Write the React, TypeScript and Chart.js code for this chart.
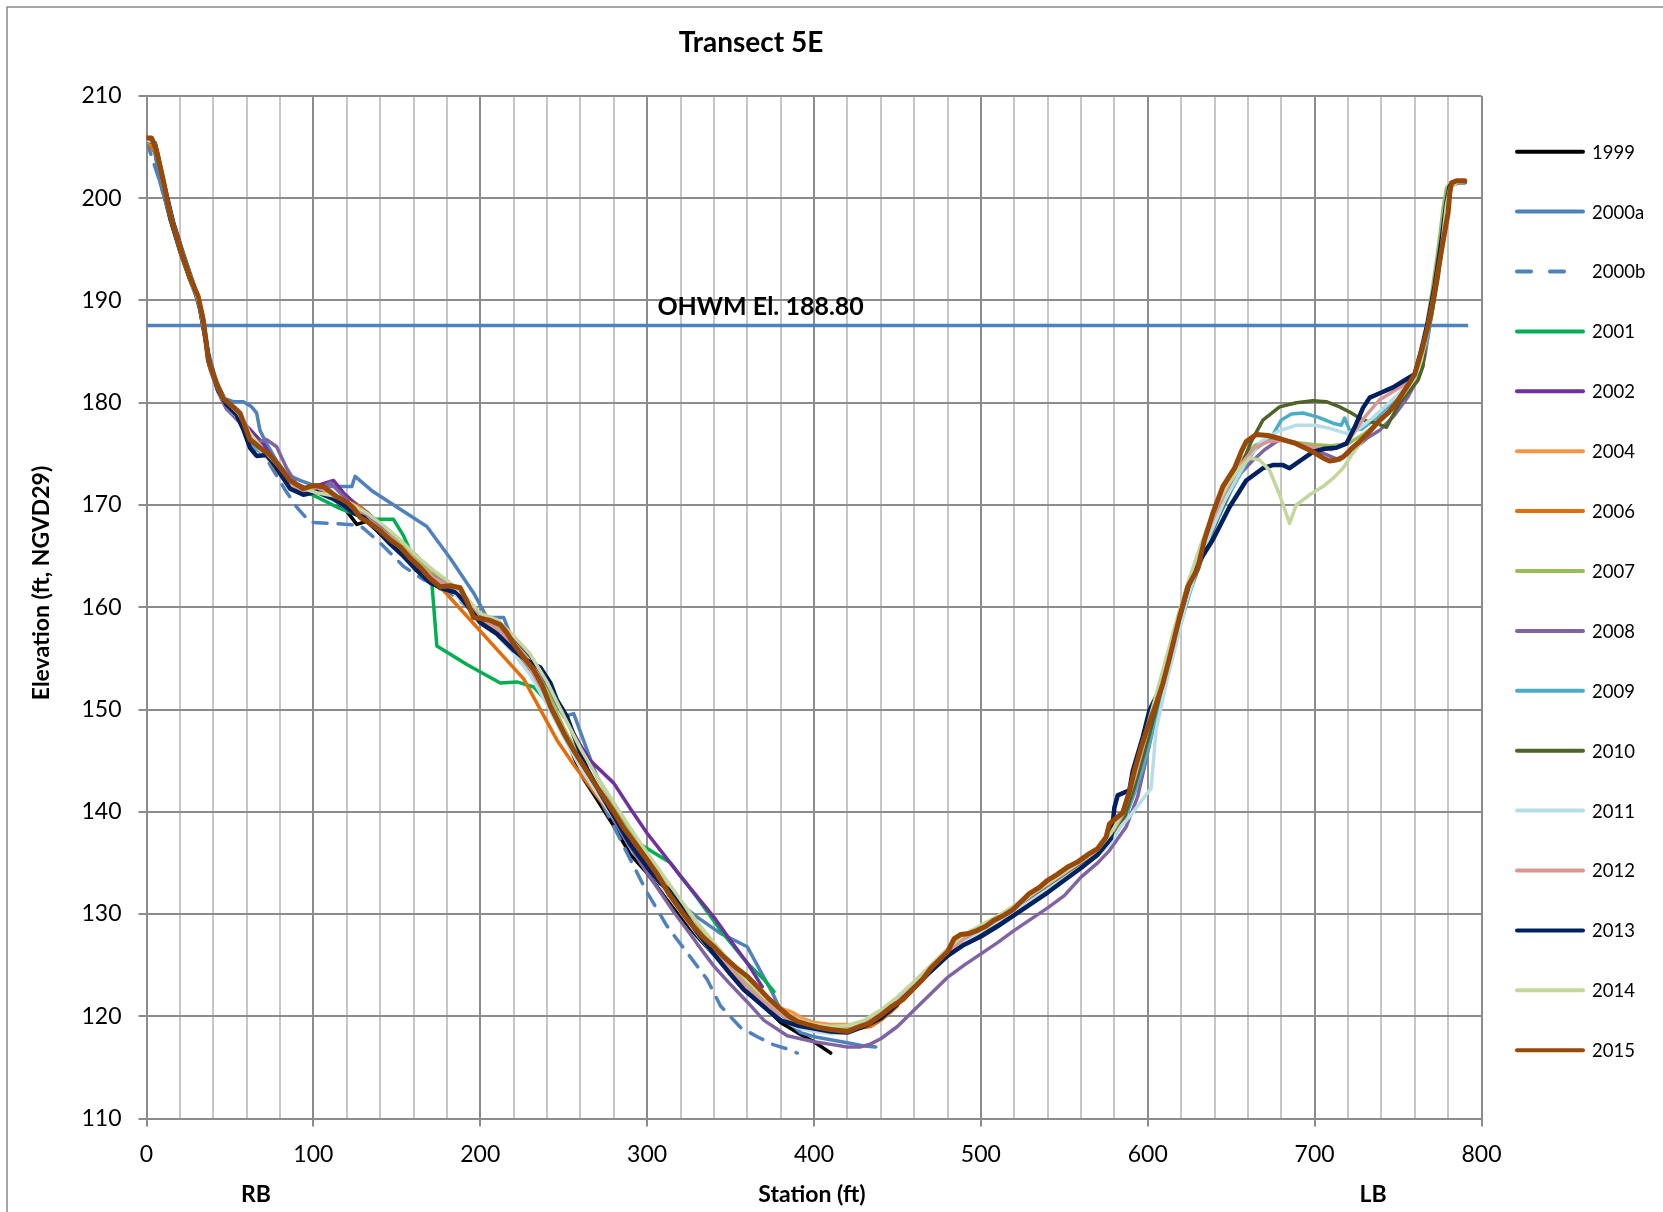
import React, { useEffect, useRef } from 'react';
import { Chart, registerables } from 'chart.js';

Chart.register(...registerables);

// ---------------- DATA ----------------
const YEARS = ['1999', '2000a', '2000b', '2001', '2002', '2004', '2006', '2007', '2008', '2009', '2010', '2011', '2012', '2013', '2014', '2015'];

const X_TICKS = [0, 100, 200, 300, 400, 500, 600, 700, 800];
const Y_TICKS = [110, 120, 130, 140, 150, 160, 170, 180, 190, 200, 210];

const OHWM_LINE = [[0, 187.55], [792, 187.55]];
const OHWM_TEXT = 'OHWM El. 188.80';

const S1999 = [[0,205.8],[4,205.6],[8,202],[14,198],[20,194.8],[26,192],[31,190],[34,187.8],[37,184],[42,181.6],[47,180],[53,179.4],[58,178],[63,176.6],[68,175.8],[74,174.6],[80,173.2],[86,172],[94,171.3],[102,171.6],[110,171],[116,170],[120,169.4],[126,168.1],[132,168.4],[140,167.2],[148,166],[156,164.7],[164,163.6],[172,162.6],[180,162],[188,161.5],[196,159.4],[204,158.5],[212,157.4],[220,156],[228,154.4],[236,152.6],[244,150.1],[250,147.9],[256,145.4],[262,143.2],[270,141.2],[280,138.6],[290,135.8],[300,134],[310,131.8],[320,129.7],[330,127.8],[340,126],[350,124.6],[360,122.8],[370,121],[380,119.4],[390,118.4],[400,117.5],[410,116.4]];

const S2000A = [[0,205.6],[4,205.4],[8,201.6],[14,198.2],[20,195],[26,192.2],[31,190.3],[34,188.4],[37,185],[42,182],[47,180.4],[52,180.1],[58,180.1],[63,179.6],[66,179],[68,177.3],[72,176],[78,174.3],[84,173],[92,172.4],[99,172],[110,171.8],[123,171.8],[125,172.8],[135,171.4],[150,169.8],[168,167.9],[182,164.8],[196,161.4],[204,159],[214,159],[220,156.5],[230,154.3],[240,152.2],[250,149.3],[256,149.6],[263,146.5],[270,143.4],[280,140.8],[290,138.2],[300,135.7],[310,133.3],[320,131],[330,129.7],[344,128.1],[360,126.8],[366,125],[375,122.3],[380,120.6],[386,119.3],[392,118.4],[400,118],[410,117.7],[420,117.4],[430,117.1],[437,117]];

const S2000B = [[0,205.6],[8,201.6],[20,195],[31,190.3],[37,184.5],[46,180.2],[56,178.8],[64,176.5],[70,175],[76,173.4],[83,171.5],[90,169.8],[98,168.3],[112,168.2],[128,168],[140,166.3],[154,164],[166,162.7],[180,161.7],[196,159.5],[210,157.6],[224,155.2],[236,152.4],[248,148.8],[260,144.6],[272,141.2],[286,136.6],[300,132.1],[312,128.8],[324,126.2],[336,123.6],[344,121],[356,118.9],[366,118],[376,117.2],[384,116.8],[390,116.4]];

const S2001 = [[0,205.7],[6,204.2],[12,199.8],[20,194.8],[27,191.6],[32,189.4],[35,186.5],[38,183.4],[43,181.4],[48,180],[55,178.8],[62,176.8],[70,175.2],[78,173.8],[86,172.6],[94,171.4],[102,170.8],[114,169.8],[126,169],[138,168.6],[148,168.6],[154,167],[160,164.8],[168,162.9],[171,162.4],[174,156.2],[192,154.4],[212,152.6],[222,152.7],[232,152.2],[240,150.8],[248,148.6],[256,146],[264,143.8],[272,141.6],[282,139.2],[292,137.2],[300,136.4],[308,135.6],[314,135],[330,131.6],[345,128.2],[360,125.2],[370,123.6],[376,122.4]];

const S2002 = [[0,205.7],[6,204.4],[12,200],[20,194.8],[27,191.8],[32,189.6],[35,187],[38,183.6],[43,181],[48,179.4],[55,178.4],[62,177.4],[70,176],[78,174],[86,172.4],[96,171.6],[104,172],[112,172.4],[118,171.2],[124,170.3],[132,169.3],[142,167.8],[152,166.4],[162,165],[172,163.4],[182,162.2],[192,160.8],[200,159.2],[210,158.2],[220,157],[230,155.2],[240,152.6],[250,149.5],[260,146.5],[266,145],[280,142.8],[290,140.3],[300,137.9],[310,135.8],[320,133.7],[330,131.7],[340,129.7],[350,127.4],[360,125.2],[369,122.9]];

const S2004 = [[0,205.7],[6,204.4],[12,200],[20,195],[27,191.8],[32,189.6],[35,186.8],[38,183.6],[43,181.2],[48,179.8],[55,178.6],[62,176.6],[70,175],[78,173.6],[86,172.4],[94,171.4],[102,171.6],[112,171],[122,170],[132,168.8],[142,167.4],[152,166],[162,164.4],[172,163],[182,162],[192,160.2],[200,158.6],[210,157.6],[220,156],[230,154],[240,151.2],[250,147.8],[260,144.8],[270,142.4],[280,140],[290,137.6],[300,135.2],[310,132.8],[320,130.6],[330,128.4],[340,126.4],[350,124.6],[360,123],[370,121.6],[380,120.8],[387,120.4],[393,119.8],[400,119.4],[410,119.2],[421,119.2]];

const S2006 = [[0,205.7],[6,204.3],[12,199.9],[20,195],[27,191.7],[32,189.5],[35,186.7],[38,183.5],[43,181.2],[48,179.8],[55,178.7],[62,177],[70,175.3],[78,173.4],[86,172],[94,171.2],[102,171.5],[112,170.8],[120,170.4],[128,169.8],[136,168.6],[144,167.2],[152,165.8],[160,164.5],[168,163.2],[176,162],[226,153],[246,147],[256,144.6],[266,142.4],[276,140.2],[286,138],[296,135.8],[306,133.6],[316,131.4],[326,129.2],[336,127.2],[346,125.4],[356,123.6],[366,122],[376,120.6],[386,119.6],[396,119.1],[406,118.8],[416,118.7],[426,118.8],[434,119],[440,119.6],[446,120.4],[450,121]];

const S2007 = [[0,205.8],[5,205.4],[10,201.6],[16,197.4],[22,194.4],[28,191.5],[32,189.2],[35,186.6],[38,183.5],[43,181.3],[48,180],[55,178.8],[62,176.8],[70,175.2],[78,173.8],[86,172.2],[94,171.2],[102,171.4],[112,170.9],[122,170],[132,168.9],[142,167.6],[152,166.2],[162,164.6],[172,163.2],[182,162.3],[192,160.6],[200,159],[210,158.2],[220,156.6],[230,154.6],[240,151.8],[250,148.2],[260,145.2],[270,142.6],[280,140.3],[290,137.8],[300,135.5],[310,133.2],[320,131],[330,128.8],[340,126.6],[350,124.8],[360,123.1],[370,121.6],[380,120.4],[390,119.6],[400,119.1],[410,118.8],[420,118.7],[430,119.2],[440,120.2],[450,121.6],[460,123.2],[470,124.8],[480,126.4],[490,127.6],[500,128.6],[510,129.6],[520,130.7],[530,131.8],[540,133],[550,134.1],[560,135.2],[570,136.3],[578,137.8],[585,139.8],[592,143.6],[600,148.5],[608,153],[616,157.8],[624,162.2],[632,165.8],[640,169.4],[648,172.2],[656,174.4],[664,175.8],[672,176.4],[680,176.4],[690,176.1],[700,175.9],[710,175.8],[720,176],[730,177],[740,178.3],[750,179.9],[758,181.6],[763,183.4],[766,186.5],[770,190.5],[774,195],[777,199],[779,201],[782,201.5],[786,201.7],[790,201.7]];

const S2008 = [[0,205.6],[5,205.3],[10,201.5],[16,197.3],[22,194.3],[28,191.4],[32,189.2],[35,186.4],[38,183.3],[43,181],[48,179.4],[55,178.2],[60,177.6],[64,176.4],[68,176.2],[72,176.4],[78,175.7],[84,173.6],[90,172],[96,171.2],[104,171.6],[110,172.2],[116,171.2],[122,170.2],[128,169.4],[136,168.4],[144,167.2],[152,165.8],[160,164.6],[168,163.4],[176,162.6],[186,161.6],[196,159.8],[206,158.4],[216,157],[226,155],[236,152.4],[246,149],[256,145.8],[266,142.9],[276,140.3],[286,137.6],[296,135],[306,132.6],[316,130.2],[326,128],[334,126.2],[340,124.9],[350,123.1],[360,121.4],[370,119.6],[384,118.1],[400,117.5],[412,117.2],[420,117],[428,117],[434,117.3],[440,117.8],[450,119],[460,120.6],[470,122.2],[480,123.8],[490,125],[500,126.1],[510,127.2],[520,128.4],[530,129.5],[540,130.6],[550,131.8],[560,133.6],[570,135],[577,136.2],[587,138.5],[594,141.5],[600,145.8],[606,150.2],[614,155.4],[622,160.6],[630,165],[638,168.4],[646,171],[654,172.8],[662,174.2],[670,175.4],[679,176.4],[690,176],[703,175.2],[715,174.4],[724,175.5],[732,176.6],[739,177.3],[748,178.8],[756,180.6],[762,182.4],[766,184.5],[770,188.5],[774,193],[778,197.5],[780,200.5],[782,201.4],[786,201.6],[790,201.6]];

const S2009 = [[0,205.6],[5,205.3],[10,201.5],[16,197.4],[22,194.3],[28,191.4],[32,189.1],[35,186.4],[38,183.3],[43,181.2],[48,179.8],[55,178.6],[60,177.2],[64,175.6],[70,175],[78,173.8],[86,172.2],[94,171.3],[102,171.4],[112,170.6],[122,169.6],[132,168.6],[142,167.3],[152,165.9],[162,164.3],[172,162.8],[182,161.9],[192,160.3],[200,158.6],[210,157.6],[220,155.8],[230,153.8],[240,150.8],[250,147.6],[260,144.6],[270,142.1],[280,139.7],[290,137.3],[300,135],[310,132.7],[320,130.4],[330,128.2],[340,126.2],[350,124.3],[360,122.6],[370,121.2],[380,119.9],[390,119],[400,118.6],[410,118.4],[420,118.5],[430,119.2],[440,120.3],[450,121.6],[460,123],[470,124.6],[480,126.1],[490,127.2],[500,128.1],[510,129.1],[520,130.2],[530,131.3],[540,132.5],[550,133.6],[560,134.7],[570,135.8],[578,137.2],[586,139.2],[592,141.8],[598,144.8],[604,148.6],[610,152.4],[618,157.4],[626,161.8],[634,165.4],[642,168.6],[650,171.4],[658,173.8],[664,175.4],[669,176],[674,176.6],[680,178.3],[686,178.9],[693,179],[702,178.6],[711,178],[716,177.8],[718,178.5],[721,177.3],[728,177.4],[736,178.4],[744,179.6],[752,180.8],[758,181.8],[763,183],[767,185.8],[771,189.4],[775,194],[778,198.4],[780,200.8],[782,201.4],[786,201.6],[790,201.6]];

const S2010 = [[0,205.7],[5,205.4],[10,201.6],[16,197.5],[22,194.4],[28,191.4],[32,189.2],[35,186.5],[38,183.4],[43,181.2],[48,179.9],[55,178.8],[62,176.9],[70,175.2],[78,173.8],[86,172.3],[94,171.3],[102,171.4],[112,170.7],[122,169.7],[132,168.6],[142,167.3],[152,165.8],[162,164.3],[170,162.6],[176,161.8],[184,161.8],[192,160.4],[200,158.7],[210,157.8],[220,155.9],[230,153.9],[240,151],[250,147.7],[260,144.7],[270,142.2],[280,139.8],[290,137.4],[300,135.1],[310,132.8],[320,130.5],[330,128.3],[340,126.3],[350,124.4],[360,122.7],[370,121.2],[380,120],[390,119.2],[400,118.8],[410,118.5],[420,118.6],[430,119.3],[440,120.4],[450,121.7],[460,123.1],[470,124.7],[480,126.2],[490,127.3],[500,128.2],[510,129.2],[520,130.3],[530,131.4],[540,132.6],[550,133.7],[560,134.8],[570,135.9],[578,137.4],[586,139.5],[592,142.4],[598,145.8],[604,149.4],[610,153],[618,157.8],[626,162],[634,165.6],[642,168.8],[650,171.6],[656,173.8],[662,176.2],[669,178.3],[679,179.6],[689,180],[699,180.2],[707,180.1],[715,179.6],[722,179],[729,178.3],[737,178],[743,177.6],[751,180],[758,181.4],[762,182.2],[765,183.6],[767,186.8],[770,188.5],[774,192.2],[777,196],[780,200],[782,201.3],[786,201.5],[790,201.5]];

const S2011 = [[0,205.6],[5,205.3],[10,201.4],[16,197.3],[22,194.2],[28,191.3],[32,189],[35,186.3],[38,183.2],[43,181],[48,179.7],[55,178.5],[62,176.6],[70,175],[78,173.6],[86,172.1],[94,171.1],[102,171.2],[112,170.5],[122,169.5],[132,168.5],[142,167.2],[152,165.7],[162,164.2],[172,162.6],[182,161.7],[192,160.1],[200,158.4],[210,157.3],[220,155.5],[230,153.4],[240,150.5],[250,147.3],[260,144.3],[270,141.8],[280,139.4],[290,137],[300,134.7],[310,132.4],[320,130.2],[330,128],[340,126],[350,124.1],[360,122.4],[370,121],[380,119.8],[390,118.9],[400,118.5],[410,118.3],[420,118.4],[430,119.1],[440,120.4],[450,121.8],[460,123.2],[470,124.8],[480,126.2],[490,127.3],[500,128.3],[510,129.3],[520,130.3],[530,131.3],[540,132.4],[550,133.5],[560,134.6],[570,135.7],[578,137],[584,138.6],[589,139.5],[596,141],[602,142.3],[605,148],[612,153.2],[618,157],[623,160.4],[630,164],[638,167.4],[646,170.4],[654,172.8],[660,174.6],[668,176.2],[678,177.2],[689,177.8],[700,177.8],[709,177.5],[719,177],[726,177.4],[734,178.4],[742,179.6],[750,180.8],[757,182],[762,183.2],[766,185.6],[770,189],[774,193.4],[778,198],[780,200.6],[782,201.3],[786,201.5],[790,201.5]];

const S2012 = [[0,205.7],[5,205.4],[10,201.6],[16,197.4],[22,194.4],[28,191.5],[32,189.2],[35,186.5],[38,183.4],[43,181.2],[48,179.9],[55,178.8],[62,176.8],[70,175.2],[78,173.8],[86,172.2],[94,171.3],[102,171.5],[112,170.8],[122,169.8],[132,168.7],[142,167.4],[152,166],[162,164.4],[172,162.9],[182,162],[192,160.4],[200,158.8],[210,157.9],[220,156.1],[230,154],[240,151.2],[250,147.9],[260,144.9],[270,142.4],[280,140],[290,137.6],[300,135.3],[310,133],[320,130.7],[330,128.5],[340,126.5],[350,124.6],[360,122.9],[370,121.4],[380,120.2],[390,119.3],[400,118.8],[410,118.6],[420,118.6],[430,119.3],[440,120.3],[450,121.6],[460,123.1],[470,124.7],[480,126.3],[490,127.6],[500,128.5],[510,129.5],[520,130.6],[530,131.8],[540,132.9],[550,134],[560,135.1],[570,136.2],[578,137.8],[585,139.7],[592,143.2],[600,148],[608,152.8],[616,157.5],[624,162],[632,165.6],[640,169],[648,171.8],[656,174],[664,175.6],[672,176.2],[680,176.3],[690,176],[700,175.6],[710,175.4],[720,176.2],[730,178.6],[739,180.3],[748,181.2],[756,182],[761,183],[765,185.2],[769,188.6],[773,192.6],[777,197],[780,200.6],[782,201.4],[786,201.6],[790,201.6]];

const S2013 = [[0,205.7],[5,205.4],[10,201.7],[16,197.6],[22,194.5],[28,191.6],[32,189.3],[35,186.6],[38,183.6],[43,181.2],[48,179.8],[54,178.8],[58,177.4],[62,175.6],[66,174.8],[72,174.9],[78,173.6],[86,171.6],[94,171],[102,171.3],[112,170.6],[118,170],[123,169.3],[130,168.8],[138,167.6],[146,166.2],[154,165],[162,163.6],[170,162.4],[178,161.8],[186,161.4],[194,159.8],[200,158.5],[210,157.4],[220,155.8],[228,154.8],[236,154.1],[242,152.6],[246,150.9],[252,149.3],[258,146.6],[264,144.2],[272,141.8],[280,139.6],[290,136.8],[300,134.6],[308,133],[316,132],[322,130.2],[330,128.2],[340,126.1],[350,124.1],[358,122.6],[366,121.5],[373,120.5],[380,119.6],[390,119.1],[400,118.8],[410,118.5],[420,118.4],[430,119],[440,119.8],[450,121.2],[460,122.8],[470,124.4],[480,125.9],[490,127],[500,127.8],[510,128.8],[520,129.9],[530,131],[540,132.1],[550,133.3],[560,134.5],[570,135.8],[578,137.4],[580,140.4],[582,141.6],[589,142.1],[591,144],[597,147.3],[601,149.9],[607,151.9],[612,154.8],[619,159],[625,162.4],[632,164.8],[639,166.6],[649,169.8],[659,172.4],[669,173.6],[675,173.9],[681,173.9],[685,173.6],[692,174.4],[699,175.2],[706,175.5],[713,175.6],[719,176],[724,177.6],[729,179.5],[733,180.5],[740,181],[747,181.5],[754,182.2],[760,182.8],[764,185.2],[768,188],[772,191.5],[776,195.8],[779,199.6],[781,201.2],[786,201.6],[790,201.6]];

const S2014 = [[0,205.7],[5,205.4],[10,201.6],[16,197.5],[22,194.5],[28,191.6],[32,189.3],[35,186.6],[38,183.5],[43,181.3],[48,180.1],[55,179],[62,177],[70,175.4],[78,174],[86,172.5],[94,171.6],[102,171.2],[112,170.9],[122,170.2],[132,169.2],[142,168],[152,166.6],[162,165],[172,163.6],[182,162.4],[192,160.9],[200,159.4],[210,158.8],[220,157.2],[230,155.4],[240,152.7],[250,149.4],[260,146.2],[270,143.4],[280,140.9],[290,138.4],[300,136],[310,133.7],[320,131.4],[330,129.2],[340,127.2],[350,125.3],[360,123.5],[370,121.9],[380,120.6],[390,119.7],[400,119.2],[410,119],[420,119.1],[430,119.6],[440,120.6],[450,121.9],[460,123.4],[470,125],[480,126.6],[490,128],[500,128.9],[510,129.8],[520,130.8],[530,131.9],[540,133],[550,134.1],[560,135.2],[570,136.3],[578,137.9],[585,140],[592,143.6],[600,148.5],[608,153.2],[616,158],[624,162.4],[632,166.2],[640,169.6],[648,172],[655,173.6],[661,174.6],[667,174.4],[673,173.4],[679,171],[685,168.2],[689,170],[697,171],[705,171.8],[711,172.6],[717,173.6],[723,175.1],[730,176.6],[738,178],[746,179.4],[754,181],[760,182.4],[764,184.2],[768,187.8],[772,191],[776,195],[779,199.4],[781,201],[786,201.6],[790,201.6]];

const S2015 = [[0,205.9],[3,205.9],[6,204.7],[10,201.8],[14,198.5],[20,195.2],[26,192.3],[31,190.4],[34,188.1],[37,184.2],[42,181.9],[46,180.4],[52,179.6],[56,179],[62,176.4],[68,175.6],[74,174.9],[80,173.7],[86,172.4],[94,171.6],[100,171.9],[106,171.8],[114,170.8],[120,170.3],[124,169.7],[128,168.8],[134,168.2],[140,167.5],[146,166.6],[152,165.9],[158,164.8],[164,163.9],[170,162.8],[176,162],[182,162.1],[188,161.9],[192,160.6],[196,159],[200,158.9],[206,158.7],[212,158.3],[216,157.5],[220,156.4],[224,155.5],[228,154.7],[232,153.9],[237,152.4],[242,150.3],[246,149],[251,147.4],[256,146],[263,144.2],[270,142.4],[275,141.2],[280,140],[286,138.4],[292,137.1],[300,135.3],[306,133.9],[313,132],[320,130.4],[326,129.1],[333,127.8],[340,126.8],[346,125.8],[353,124.8],[360,123.9],[366,122.9],[373,121.7],[380,120.7],[385,120],[390,119.5],[396,119.2],[403,118.9],[410,118.7],[415,118.6],[420,118.5],[426,118.9],[433,119.3],[440,120.1],[447,121],[453,121.6],[459,122.6],[465,123.6],[470,124.7],[475,125.5],[480,126.3],[484,127.6],[488,128],[493,128.1],[498,128.4],[503,128.8],[508,129.4],[513,129.8],[519,130.4],[524,131.2],[529,132],[535,132.6],[540,133.3],[546,133.9],[552,134.6],[558,135.1],[564,135.8],[570,136.4],[575,137.5],[577,138.8],[579,139.1],[585,139.9],[589,142],[592,144],[596,146.3],[600,148.3],[605,150.5],[609,152.5],[613,155],[616,157],[619,159],[624,162],[630,163.8],[634,166.6],[639,169.2],[645,171.8],[652,173.6],[656,175.2],[659,176.2],[665,176.9],[672,176.8],[679,176.5],[689,176],[699,175.2],[705,174.6],[709,174.3],[713,174.4],[717,174.7],[722,175.5],[727,176.2],[733,177.2],[739,178.3],[744,179],[749,180],[753,181],[757,182],[760,182.8],[764,185],[768,187.5],[771,190],[774,193],[777,195.8],[780,198.6],[781,200.5],[782,201.5],[785,201.7],[790,201.7]];

const SERIES = [S1999, S2000A, S2000B, S2001, S2002, S2004, S2006, S2007, S2008, S2009, S2010, S2011, S2012, S2013, S2014, S2015];

// ---------------- STYLE ----------------
const COLORS = ['#000000', '#4F81BD', '#4F81BD', '#00B050', '#7030A0', '#F79646', '#E46C0A', '#9BBB59', '#8064A2', '#4BACC6', '#4F6228', '#B7DEE8', '#D99694', '#002060', '#C3D69B', '#984807'];
const WIDTHS = [3.5, 3.5, 3.5, 3.5, 3.5, 3.5, 3.5, 3.5, 3.5, 3.5, 3.5, 3.5, 3.5, 4.5, 3.5, 5];
const DASHES: number[][] = YEARS.map((y) => (y === '2000b' ? [14, 11] : []));

const W = 1663;
const H = 1212;
const FONT = 'Lato, "Open Sans", "DejaVu Sans", sans-serif';
const PLOT = { left: 146.5, right: 1481.5, top: 96, bottom: 1118.5 };

const decorPlugin = {
  id: 'decor',
  beforeDraw(chart: any) {
    const ctx = chart.ctx;
    ctx.save();
    ctx.fillStyle = '#ffffff';
    ctx.fillRect(0, 0, W, H);
    ctx.strokeStyle = '#8a8a8a';
    ctx.lineWidth = 1.5;
    ctx.beginPath();
    ctx.moveTo(7, H + 5);
    ctx.lineTo(7, 7);
    ctx.lineTo(W + 5, 7);
    ctx.stroke();
    ctx.restore();
  },
  afterDraw(chart: any) {
    const ctx = chart.ctx;
    const xs = chart.scales.x;
    const ys = chart.scales.y;
    ctx.save();
    ctx.fillStyle = '#000';
    ctx.textAlign = 'center';
    ctx.textBaseline = 'middle';
    // title
    ctx.font = `bold 28px ${FONT}`;
    ctx.fillText('Transect 5E', 751, 43);
    // OHWM label
    ctx.font = `bold 25px ${FONT}`;
    ctx.fillText(OHWM_TEXT, xs.getPixelForValue(368), ys.getPixelForValue(189.4));
    // x axis titles
    ctx.font = `bold 23px ${FONT}`;
    ctx.fillText('RB', 256, 1195);
    ctx.fillText('Station (ft)', 812, 1195);
    ctx.fillText('LB', 1373, 1195);
    // y axis title
    ctx.save();
    ctx.translate(42, 583);
    ctx.rotate(-Math.PI / 2);
    ctx.fillText('Elevation (ft, NGVD29)', 0, 0);
    ctx.restore();
    // legend
    ctx.font = `18.5px ${FONT}`;
    ctx.textAlign = 'left';
    for (let i = 0; i < YEARS.length; i++) {
      const y = 151.7 + i * 59.9;
      ctx.save();
      ctx.strokeStyle = COLORS[i];
      ctx.lineWidth = 4;
      ctx.lineCap = 'round';
      ctx.setLineDash(DASHES[i].length ? [14, 19] : []);
      ctx.beginPath();
      ctx.moveTo(1517, y);
      ctx.lineTo(1583, y);
      ctx.stroke();
      ctx.restore();
      ctx.fillText(YEARS[i], 1592, y + 1);
    }
    ctx.restore();
  },
};

export default function App() {
  const ref = useRef<HTMLCanvasElement>(null);
  useEffect(() => {
    document.body.style.margin = '0';
    const canvas = ref.current;
    if (!canvas) return;
    const datasets: any[] = [];
    // first dataset is drawn on top in Chart.js, so later years go first
    for (let i = YEARS.length - 1; i >= 0; i--) {
      datasets.push({
        label: YEARS[i],
        data: SERIES[i].map((p) => ({ x: p[0], y: p[1] })),
        borderColor: COLORS[i],
        backgroundColor: COLORS[i],
        borderWidth: WIDTHS[i],
        borderDash: DASHES[i],
        pointRadius: 0,
        tension: 0,
        fill: false,
        borderJoinStyle: 'round',
        borderCapStyle: 'round',
      });
    }
    datasets.push({
      label: 'OHWM',
      data: OHWM_LINE.map((p) => ({ x: p[0], y: p[1] })),
      borderColor: '#4F81BD',
      borderWidth: 3.5,
      pointRadius: 0,
      fill: false,
    });
    const gridCol = (ctx: any) => {
      const v = ctx.tick ? Math.round(ctx.tick.value) : 0;
      return v % 100 === 0 ? '#8C8C8C' : '#C6C6C6';
    };
    const chart = new Chart(canvas, {
      type: 'line',
      data: { datasets },
      options: {
        animation: false,
        responsive: false,
        devicePixelRatio: 1,
        layout: { padding: { left: 0, right: W - PLOT.right, top: PLOT.top, bottom: 0 } },
        plugins: { legend: { display: false }, tooltip: { enabled: false }, title: { display: false } },
        scales: {
          x: {
            type: 'linear',
            min: X_TICKS[0],
            max: X_TICKS[X_TICKS.length - 1],
            afterFit: (s: any) => { s.height = H - PLOT.bottom; },
            ticks: {
              stepSize: 20,
              autoSkip: false,
              maxRotation: 0,
              padding: 14,
              color: '#000',
              font: { family: FONT, size: 23 },
              callback: (v: any) => (X_TICKS.includes(Math.round(v)) ? String(Math.round(v)) : ''),
            },
            grid: {
              color: gridCol,
              lineWidth: 2,
              tickLength: 8,
              tickColor: (ctx: any) => (ctx.tick && Math.round(ctx.tick.value) % 100 === 0 ? '#8C8C8C' : 'rgba(0,0,0,0)'),
            },
            border: { color: '#8C8C8C', width: 2 },
          },
          y: {
            type: 'linear',
            min: Y_TICKS[0],
            max: Y_TICKS[Y_TICKS.length - 1],
            afterFit: (s: any) => { s.width = PLOT.left; },
            ticks: {
              stepSize: 10,
              padding: 17,
              color: '#000',
              font: { family: FONT, size: 23 },
            },
            grid: { color: '#8C8C8C', lineWidth: 2, tickLength: 8 },
            border: { color: '#8C8C8C', width: 2 },
          },
        },
      } as any,
      plugins: [decorPlugin],
    });
    return () => chart.destroy();
  }, []);
  return (
    <div style={{ position: 'absolute', left: 0, top: 0, width: W, height: H }}>
      <canvas ref={ref} width={W} height={H} style={{ width: W, height: H, display: 'block' }} />
    </div>
  );
}
